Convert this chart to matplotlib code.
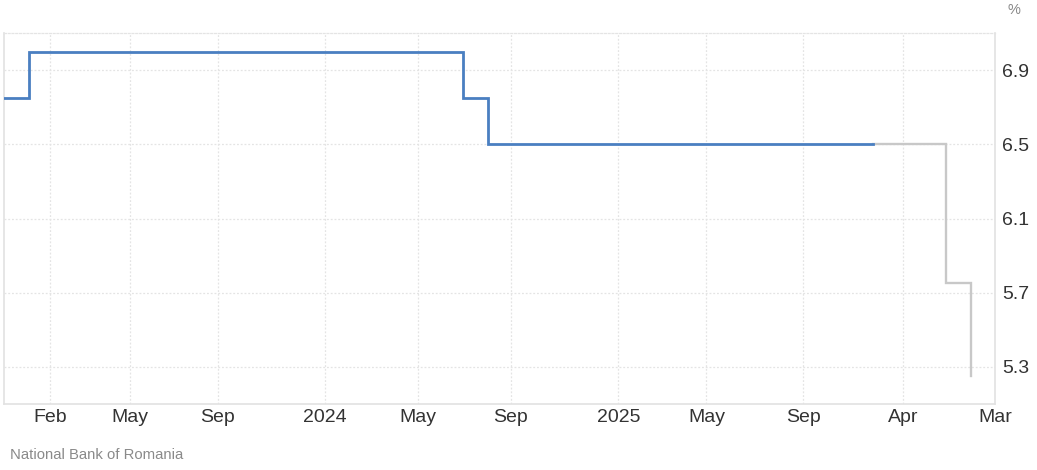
import numpy as np
import matplotlib
matplotlib.use("Agg")
import matplotlib.pyplot as plt
import matplotlib.dates as mdates

plt.rcParams['font.family'] = ['Liberation Sans', 'DejaVu Sans']

# ---- data ----
hist_dates = ['2022-11-26', '2022-12-27', '2024-06-21', '2024-07-22', '2025-11-15']
hist_rates = [6.75, 7.00, 6.75, 6.50, 6.50]

forecast_dates = ['2025-11-15', '2026-09-12', '2026-12-22']
forecast_rates = [6.50, 5.75, 5.25]

tick_dates = ['2023-01-23', '2023-05-02', '2023-08-20', '2024-01-01', '2024-04-26',
              '2024-08-20', '2025-01-01', '2025-04-21', '2025-08-20', '2026-03-18',
              '2027-03-31']
tick_labels = ['Feb', 'May', 'Sep', '2024', 'May', 'Sep', '2025', 'May', 'Sep', 'Apr', 'Mar']

y_ticks = [5.3, 5.7, 6.1, 6.5, 6.9]
y_tick_labels = ['5.3', '5.7', '6.1', '6.5', '6.9']

source = 'National Bank of Romania'
unit = '%'

# ---- scale: forecast period is compressed ----
def d2n(lst):
    return mdates.date2num(np.array(lst, dtype='datetime64[D]'))

t0 = float(d2n(['2025-11-15'])[0])
k = 0.304

def fwd(x):
    x = np.asarray(x, dtype=float)
    return np.where(x <= t0, x, t0 + (x - t0) * k)

def inv(y):
    y = np.asarray(y, dtype=float)
    return np.where(y <= t0, y, t0 + (y - t0) / k)

W, H = 1037, 470
fig = plt.figure(figsize=(W / 100, H / 100), dpi=100)
ax = fig.add_axes([4 / W, 66 / H, 991 / W, 371 / H])
ax.set_xscale('function', functions=(fwd, inv))

ax.plot(d2n(hist_dates), hist_rates, drawstyle='steps-post', color='#4a7fc1',
        lw=2.0, solid_joinstyle='miter', zorder=3)
ax.plot(d2n(forecast_dates), forecast_rates, drawstyle='steps-post', color='#c8c8c8',
        lw=1.7, solid_joinstyle='miter', zorder=2)

ax.set_xlim(d2n(['2022-11-26'])[0], d2n(['2027-03-31'])[0])
ax.set_ylim(5.1, 7.1)

ax.set_xticks(d2n(tick_dates))
ax.set_xticklabels(tick_labels)
ax.set_yticks(y_ticks)
ax.set_yticklabels(y_tick_labels)
ax.xaxis.set_minor_locator(matplotlib.ticker.NullLocator())

ax.yaxis.tick_right()
ax.tick_params(axis='both', length=0, labelsize=14, labelcolor='#333333')
ax.tick_params(axis='x', pad=3.5)
ax.tick_params(axis='y', pad=5)

ax.grid(True, color='#e4e4e4', linestyle=(0, (1.5, 1.5)), lw=0.9)
ax.set_axisbelow(True)

for s in ['left', 'right', 'bottom']:
    ax.spines[s].set_color('#e2e2e2')
    ax.spines[s].set_linewidth(1.2)
ax.spines['top'].set_color('#e4e4e4')
ax.spines['top'].set_linestyle((0, (1.5, 1.5)))
ax.spines['top'].set_linewidth(0.9)

fig.text(1014 / W, 1 - 10 / H, unit, ha='center', va='center', fontsize=10.5, color='#888888')
fig.text(10 / W, 1 - 455 / H, source, ha='left', va='center', fontsize=10.7, color='#8a8a8a')

fig.savefig('out.png', dpi=100)
